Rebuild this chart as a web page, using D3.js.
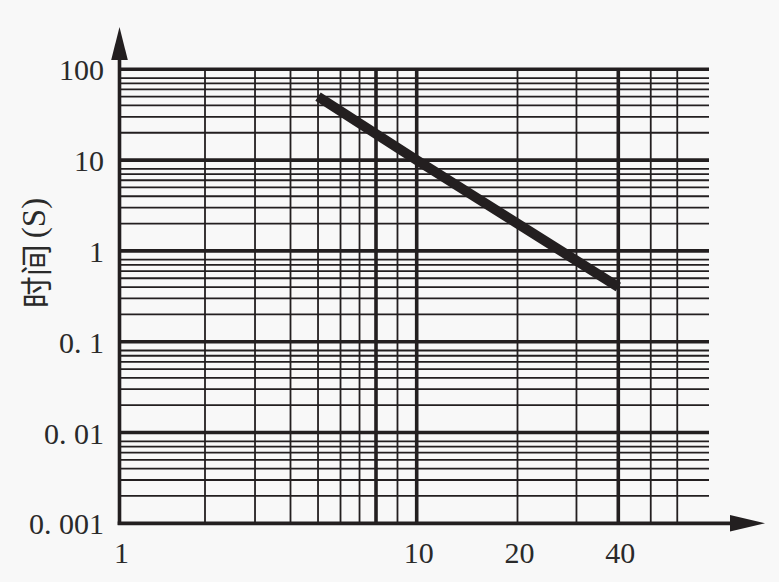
<!DOCTYPE html>
<html>
<head>
<meta charset="utf-8">
<script src="https://cdn.jsdelivr.net/npm/d3@7"></script>
<style>
  html, body { margin: 0; padding: 0; background: #f8f8f8; }
  svg { display: block; }
</style>
</head>
<body>
<svg id="chart" width="779" height="582"></svg>
<script>
// ---- data ----
const curveX = [5, 10, 40];          // multiple of rated current
const curveY = [50, 10, 0.4];        // time (s)
const xTickLabels = [1, 10, 20, 40];
const xMinorGrid = [2, 3, 4, 5, 6, 7, 9, 20, 30, 50, 60];
const xMajorGrid = [8, 10, 40];
const yDecades = [0.001, 0.01, 0.1, 1, 10, 100];
const yTickLabels = ["0. 001", "0. 01", "0. 1", "1", "10", "100"];
const yMinorMultipliers = [2, 3, 4, 5, 6, 7, 8];
const yTitle = "时间";
const yUnit = "(S)";

// ---- layout ----
const W = 779, H = 582;
const plotLeft = 119.5, plotBottom = 523.3, plotTop = 69.3, plotRight = 709;
const ink = "#231f20";

const svg = d3.select("#chart");
svg.append("rect").attr("width", W).attr("height", H).attr("fill", "#f8f8f8");

const y = d3.scaleLog().domain([0.001, 100]).range([plotBottom, plotTop]);
// piecewise logarithmic x scale (the grid of the original is not uniformly logarithmic)
const x = d3.scaleLog().domain([1, 8, 10, 40]).range([plotLeft, 376, 416.7, 618.3]);

const g = svg.append("g");

// horizontal minor grid
const yMinor = [];
yDecades.slice(0, -1).forEach(d => yMinorMultipliers.forEach(m => yMinor.push(d * m)));
g.selectAll("line.hmin").data(yMinor).join("line")
  .attr("x1", plotLeft).attr("x2", plotRight)
  .attr("y1", d => y(d)).attr("y2", d => y(d))
  .attr("stroke", ink).attr("stroke-width", 1.8);

// vertical minor grid
g.selectAll("line.vmin").data(xMinorGrid).join("line")
  .attr("x1", d => x(d)).attr("x2", d => x(d))
  .attr("y1", plotTop).attr("y2", plotBottom)
  .attr("stroke", ink).attr("stroke-width", 1.8);

// horizontal major grid
g.selectAll("line.hmaj").data(yDecades.slice(1)).join("line")
  .attr("x1", plotLeft).attr("x2", plotRight)
  .attr("y1", d => y(d)).attr("y2", d => y(d))
  .attr("stroke", ink).attr("stroke-width", 3.6);

// vertical major grid
g.selectAll("line.vmaj").data(xMajorGrid).join("line")
  .attr("x1", d => x(d)).attr("x2", d => x(d))
  .attr("y1", plotTop).attr("y2", plotBottom)
  .attr("stroke", ink).attr("stroke-width", 3.6);

// axes with arrows
g.append("line").attr("x1", plotLeft).attr("x2", plotLeft).attr("y1", plotBottom + 1.8).attr("y2", 58)
  .attr("stroke", ink).attr("stroke-width", 3.6);
g.append("path").attr("d", `M${plotLeft},27 L${plotLeft - 8.3},60 L${plotLeft + 8.3},60 Z`).attr("fill", ink);

g.append("line").attr("x1", plotLeft - 1.8).attr("x2", 732).attr("y1", plotBottom).attr("y2", plotBottom)
  .attr("stroke", ink).attr("stroke-width", 3.8);
g.append("path").attr("d", `M765,${plotBottom} L730,${plotBottom - 8.3} L730,${plotBottom + 8.3} Z`).attr("fill", ink);

// data curve
const pts = curveX.map((v, i) => [v, curveY[i]]);
g.append("path")
  .attr("d", d3.line().x(d => x(d[0])).y(d => y(d[1]))(pts))
  .attr("fill", "none").attr("stroke", ink).attr("stroke-width", 10)
  .attr("stroke-linecap", "butt");

// y tick labels
g.selectAll("text.yl").data(yDecades).join("text")
  .attr("x", 104).attr("y", d => y(d) + 11)
  .attr("text-anchor", "end")
  .attr("font-family", "'Liberation Serif', 'DejaVu Serif', serif")
  .attr("font-size", 30).attr("fill", "#2a2a2a")
  .text((d, i) => yTickLabels[i]);

// x tick labels
g.selectAll("text.xl").data(xTickLabels).join("text")
  .attr("x", d => x(d) + 2).attr("y", 563)
  .attr("text-anchor", "middle")
  .attr("font-family", "'Liberation Serif', 'DejaVu Serif', serif")
  .attr("font-size", 30).attr("fill", "#2a2a2a")
  .text(d => d);

// y title
const t = g.append("text")
  .attr("transform", "translate(34,253) rotate(-90)")
  .attr("text-anchor", "middle").attr("dominant-baseline", "central")
  .attr("fill", "#2a2a2a");
t.append("tspan").attr("font-family", "'Noto Sans CJK SC', sans-serif").attr("font-size", 32).text(yTitle);
t.append("tspan").attr("font-family", "'Liberation Serif', serif").attr("font-size", 33).attr("dx", 6).text(yUnit);
</script>
</body>
</html>
